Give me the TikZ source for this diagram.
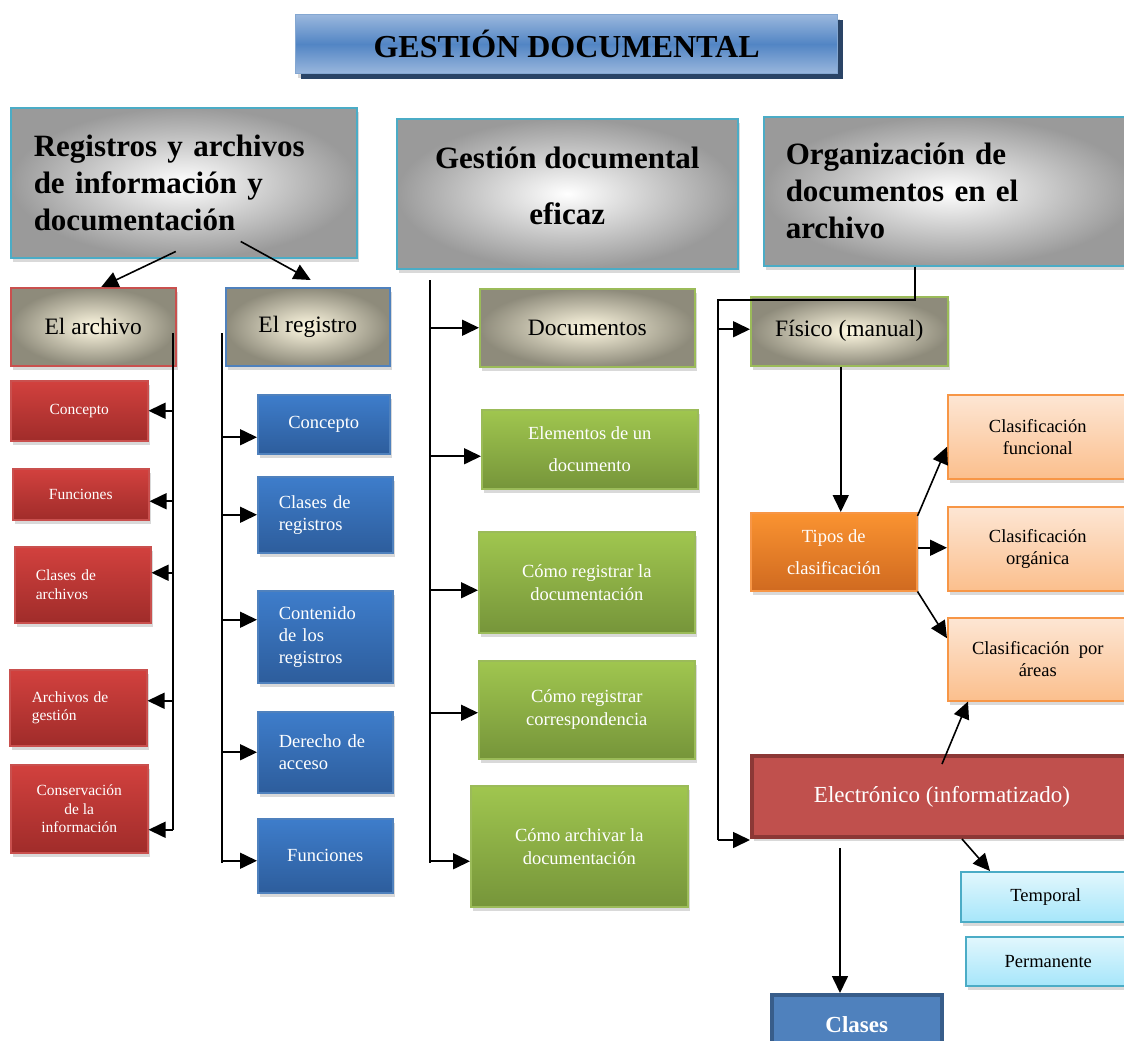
\documentclass[tikz,border=0pt]{standalone}
\usepackage{fontspec}
\setmainfont{Liberation Serif}
\usetikzlibrary{arrows.meta,calc,shadows}

\definecolor{tealline}{HTML}{4BACC6}
\definecolor{topgray}{HTML}{9A9A9A}
\definecolor{creamin}{HTML}{FFF9E2}
\definecolor{creamout}{HTML}{8E8B7B}
\definecolor{redtop}{HTML}{D2413E}
\definecolor{redbot}{HTML}{A02C2A}
\definecolor{redline}{HTML}{C9504E}
\definecolor{bluetop}{HTML}{3E7DCB}
\definecolor{bluebot}{HTML}{2D5D9C}
\definecolor{blueline}{HTML}{4F81BD}
\definecolor{greentop}{HTML}{A0C64F}
\definecolor{greenbot}{HTML}{76953A}
\definecolor{greenline}{HTML}{9BBB59}
\definecolor{orangetop}{HTML}{FA9331}
\definecolor{orangebot}{HTML}{D06A20}
\definecolor{orangeline}{HTML}{F79646}
\definecolor{peachtop}{HTML}{FDE6D4}
\definecolor{peachbot}{HTML}{FBBF8D}
\definecolor{cyantop}{HTML}{E2F7FD}
\definecolor{cyanbot}{HTML}{A6E6FA}
\definecolor{elecfill}{HTML}{C0504D}
\definecolor{elecline}{HTML}{8C3836}
\definecolor{clasesline}{HTML}{385D8A}
\definecolor{titletop}{HTML}{9AB7DD}
\definecolor{titlemid}{HTML}{5285C4}
\definecolor{titleshadow}{HTML}{2A4466}

\tikzset{
  box/.style={draw, anchor=north west, inner sep=0pt, line width=1.5pt,
    drop shadow={shadow xshift=2pt, shadow yshift=-4pt, opacity=0.3}},
  topbox/.style={box, draw=tealline, inner color=white, outer color=topgray,
    font=\fontsize{31}{37}\selectfont\bfseries},
  subbox/.style={box, inner color=creamin, outer color=creamout,
    font=\fontsize{23.5}{28}\selectfont},
  redbox/.style={box, draw=redline, top color=redtop, bottom color=redbot,
    text=white, font=\fontsize{15.5}{18.5}\selectfont},
  bluebox/.style={box, draw=blueline, top color=bluetop, bottom color=bluebot,
    text=white, font=\fontsize{18.5}{22}\selectfont},
  greenbox/.style={box, draw=greenline, top color=greentop, bottom color=greenbot,
    text=white, align=center, font=\fontsize{18.5}{23}\selectfont},
  peachbox/.style={box, draw=orangeline, top color=peachtop, bottom color=peachbot,
    align=center, font=\fontsize{18.5}{22}\selectfont},
  cyanbox/.style={box, draw=tealline, top color=cyantop, bottom color=cyanbot,
    font=\fontsize{18.5}{22}\selectfont},
  trunk/.style={line width=1.6pt},
  arr/.style={line width=1.6pt, -{Triangle[length=17pt,width=16pt]}}
}

\begin{document}
\begin{tikzpicture}[x=1pt,y=-1pt]
  \useasboundingbox (0,0) rectangle (1124,1041);
  \clip (0,0) rectangle (1124,1041);

  % title
  \node[box, draw=blueline!70, line width=1.2pt, top color=titletop, bottom color=titletop,
    middle color=titlemid, minimum width=542pt, minimum height=59pt,
    drop shadow={shadow xshift=5pt, shadow yshift=-5pt, opacity=1, fill=titleshadow},
    font=\fontsize{32}{36}\selectfont\bfseries] (title) at (295,14) {GESTIÓN DOCUMENTAL};

  % three main blocks
  \node[topbox, minimum width=346pt, minimum height=150pt, text width=300pt, align=left]
    (regbox) at (10,107) {Registros y archivos\\de información y\\documentación};
  \node[topbox, minimum width=341pt, minimum height=150pt, align=center]
    (gesbox) at (396,118) {Gestión documental\\[19pt]eficaz\\[-20pt]\mbox{}};
  \node[topbox, minimum width=372pt, minimum height=149pt, text width=328pt, align=left]
    (orgbox) at (763,116) {Organización de\\documentos en el\\archivo};

  % second level
  \node[subbox, draw=redline, minimum width=165pt, minimum height=78pt] (archivo) at (10,287) {El archivo};
  \node[subbox, draw=blueline, minimum width=164pt, minimum height=78pt] (registro) at (225,287) {El registro};
  \node[subbox, draw=greenline, minimum width=215pt, minimum height=78pt] (docum) at (479,288) {Documentos};
  \node[subbox, draw=greenline, minimum width=197pt, minimum height=69pt] (fisico) at (750,296) {Físico (manual)};

  \draw[arr] ([xshift=-8pt,yshift=7pt]regbox.south) -- ([xshift=8pt]archivo.north);
  \draw[arr] ([xshift=57pt,yshift=17pt]regbox.south) -- ([xshift=3pt,yshift=7pt]registro.north);

  % el archivo
  \node[redbox, minimum width=137pt, minimum height=60pt] (ac1) at (10,380) {Concepto};
  \node[redbox, minimum width=136pt, minimum height=51pt] (ac2) at (12,468) {Funciones};
  \node[redbox, minimum width=136pt, minimum height=76pt, text width=94pt, align=left] (ac3) at (14,546) {Clases de\\archivos};
  \node[redbox, minimum width=137pt, minimum height=76pt, text width=93pt, align=left] (ac4) at (9,669) {Archivos de\\gestión};
  \node[redbox, minimum width=137pt, minimum height=88pt, align=center] (ac5) at (10,764) {Conservación\\de la\\información};

  \coordinate (atop) at (173,333);
  \coordinate (abot) at (173,830);
  \draw[trunk] (atop) -- (abot);
  \draw[arr] (ac1.east -| atop) -- (ac1.east);
  \draw[arr] ([yshift=-7pt]ac2.east -| atop) -- ([yshift=-7pt]ac2.east);
  \draw[arr] ([yshift=12pt]ac3.east -| atop) -- ([yshift=12pt]ac3.east);
  \draw[arr] ([yshift=7pt]ac4.east -| atop) -- ([yshift=7pt]ac4.east);
  \draw[arr] ([yshift=-21pt]ac5.east -| atop) -- ([yshift=-21pt]ac5.east);

  % el registro
  \node[bluebox, minimum width=132pt, minimum height=59pt] (rc1) at (257,394) {Concepto};
  \node[bluebox, minimum width=135pt, minimum height=76pt, text width=93pt, align=left] (rc2) at (257,476) {Clases de\\registros};
  \node[bluebox, minimum width=135pt, minimum height=92pt, text width=93pt, align=left] (rc3) at (257,590) {Contenido\\de los\\registros};
  \node[bluebox, minimum width=135pt, minimum height=81pt, text width=93pt, align=left] (rc4) at (257,711) {Derecho de\\acceso};
  \node[bluebox, minimum width=135pt, minimum height=74pt] (rc5) at (257,818) {Funciones};

  \coordinate (btop) at (222,333);
  \coordinate (bbot) at (222,863);
  \draw[trunk] (btop) -- (bbot);
  \draw[arr] ([yshift=-13pt]rc1.west -| btop) -- ([yshift=-13pt]rc1.west);
  \draw[arr] (rc2.west -| btop) -- (rc2.west);
  \draw[arr] ([yshift=17pt]rc3.west -| btop) -- ([yshift=17pt]rc3.west);
  \draw[arr] (rc4.west -| btop) -- (rc4.west);
  \draw[arr] ([yshift=-5pt]rc5.west -| btop) -- ([yshift=-5pt]rc5.west);

  % documentos
  \node[greenbox, minimum width=216pt, minimum height=79pt] (dc1) at (481,409) {Elementos de un\\[9pt]documento};
  \node[greenbox, minimum width=216pt, minimum height=101pt] (dc2) at (478,531) {Cómo registrar la\\documentación};
  \node[greenbox, minimum width=216pt, minimum height=98pt] (dc3) at (478,660) {Cómo registrar\\correspondencia};
  \node[greenbox, minimum width=217pt, minimum height=121pt] (dc4) at (470,785) {Cómo archivar la\\documentación};

  \coordinate (gtop) at (430,280);
  \coordinate (gbot) at (430,863);
  \draw[trunk] (gtop) -- (gbot);
  \draw[arr] (docum.west -| gtop) -- (docum.west);
  \draw[arr] ([yshift=-7pt]dc1.west -| gtop) -- ([yshift=-7pt]dc1.west);
  \draw[arr] ([yshift=-8pt]dc2.west -| gtop) -- ([yshift=-8pt]dc2.west);
  \draw[arr] ([yshift=-3pt]dc3.west -| gtop) -- ([yshift=-3pt]dc3.west);
  \draw[arr] ([yshift=-15pt]dc4.west -| gtop) -- ([yshift=-15pt]dc4.west);

  % organizacion
  \node[box, draw=orangeline, top color=orangetop, bottom color=orangebot, text=white,
    minimum width=166pt, minimum height=78pt, align=center,
    font=\fontsize{18.5}{23}\selectfont] (tipos) at (750,512) {Tipos de\\[9pt]clasificación};
  \node[peachbox, minimum width=180pt, minimum height=84pt] (clfun) at (947,394) {Clasificación\\funcional};
  \node[peachbox, minimum width=180pt, minimum height=84pt] (clorg) at (947,506) {Clasificación\\orgánica};
  \node[peachbox, minimum width=180pt, minimum height=83pt] (clarea) at (947,617) {Clasificación\ \ por\\áreas};
  \node[box, draw=elecline, line width=4pt, fill=elecfill, text=white,
    minimum width=380pt, minimum height=81pt,
    font=\fontsize{23}{28}\selectfont] (elec) at (750,754) {Electrónico (informatizado)};
  \node[cyanbox, minimum width=170pt, minimum height=50pt] (temporal) at (960,871) {Temporal};
  \node[cyanbox, minimum width=165pt, minimum height=49pt] (perm) at (965,936) {Permanente};
  \node[box, draw=clasesline, line width=3.5pt, fill=blueline, text=white,
    minimum width=170pt, minimum height=60pt,
    font=\fontsize{23}{28}\selectfont\bfseries] (clases) at (770,993) {Clases};

  \coordinate (rjoin) at (915,300);
  \coordinate (rcorner) at (718,300);
  \coordinate (rbot) at (718,840);
  \draw[trunk] (orgbox.south -| rjoin) -- (rjoin) -- (rcorner) -- (rbot);
  \draw[arr] (rbot) -- (rbot -| elec.west);
  \draw[arr] ([yshift=2pt]fisico.west -| rcorner) -- ([yshift=2pt]fisico.west);

  \draw[arr] ([xshift=7pt]tipos.north |- fisico.south) -- ([xshift=7pt]tipos.north);
  \draw[arr] ([yshift=-4pt]tipos.north east) -- ([yshift=-10pt]clfun.west);
  \draw[arr] ([yshift=4pt]tipos.east) -- ([yshift=4pt]tipos.east -| clorg.west);
  \draw[arr] (tipos.south east) -- ([yshift=21pt]clarea.west);
  \draw[arr] ([yshift=-10pt]elec.north) -- ([xshift=21pt]clarea.south west);
  \draw[arr] ([xshift=20pt]elec.south) -- ([xshift=30pt]temporal.north west);

  \coordinate (edown) at (840,848);
  \draw[arr] (edown) -- (edown |- clases.north);
\end{tikzpicture}
\end{document}
